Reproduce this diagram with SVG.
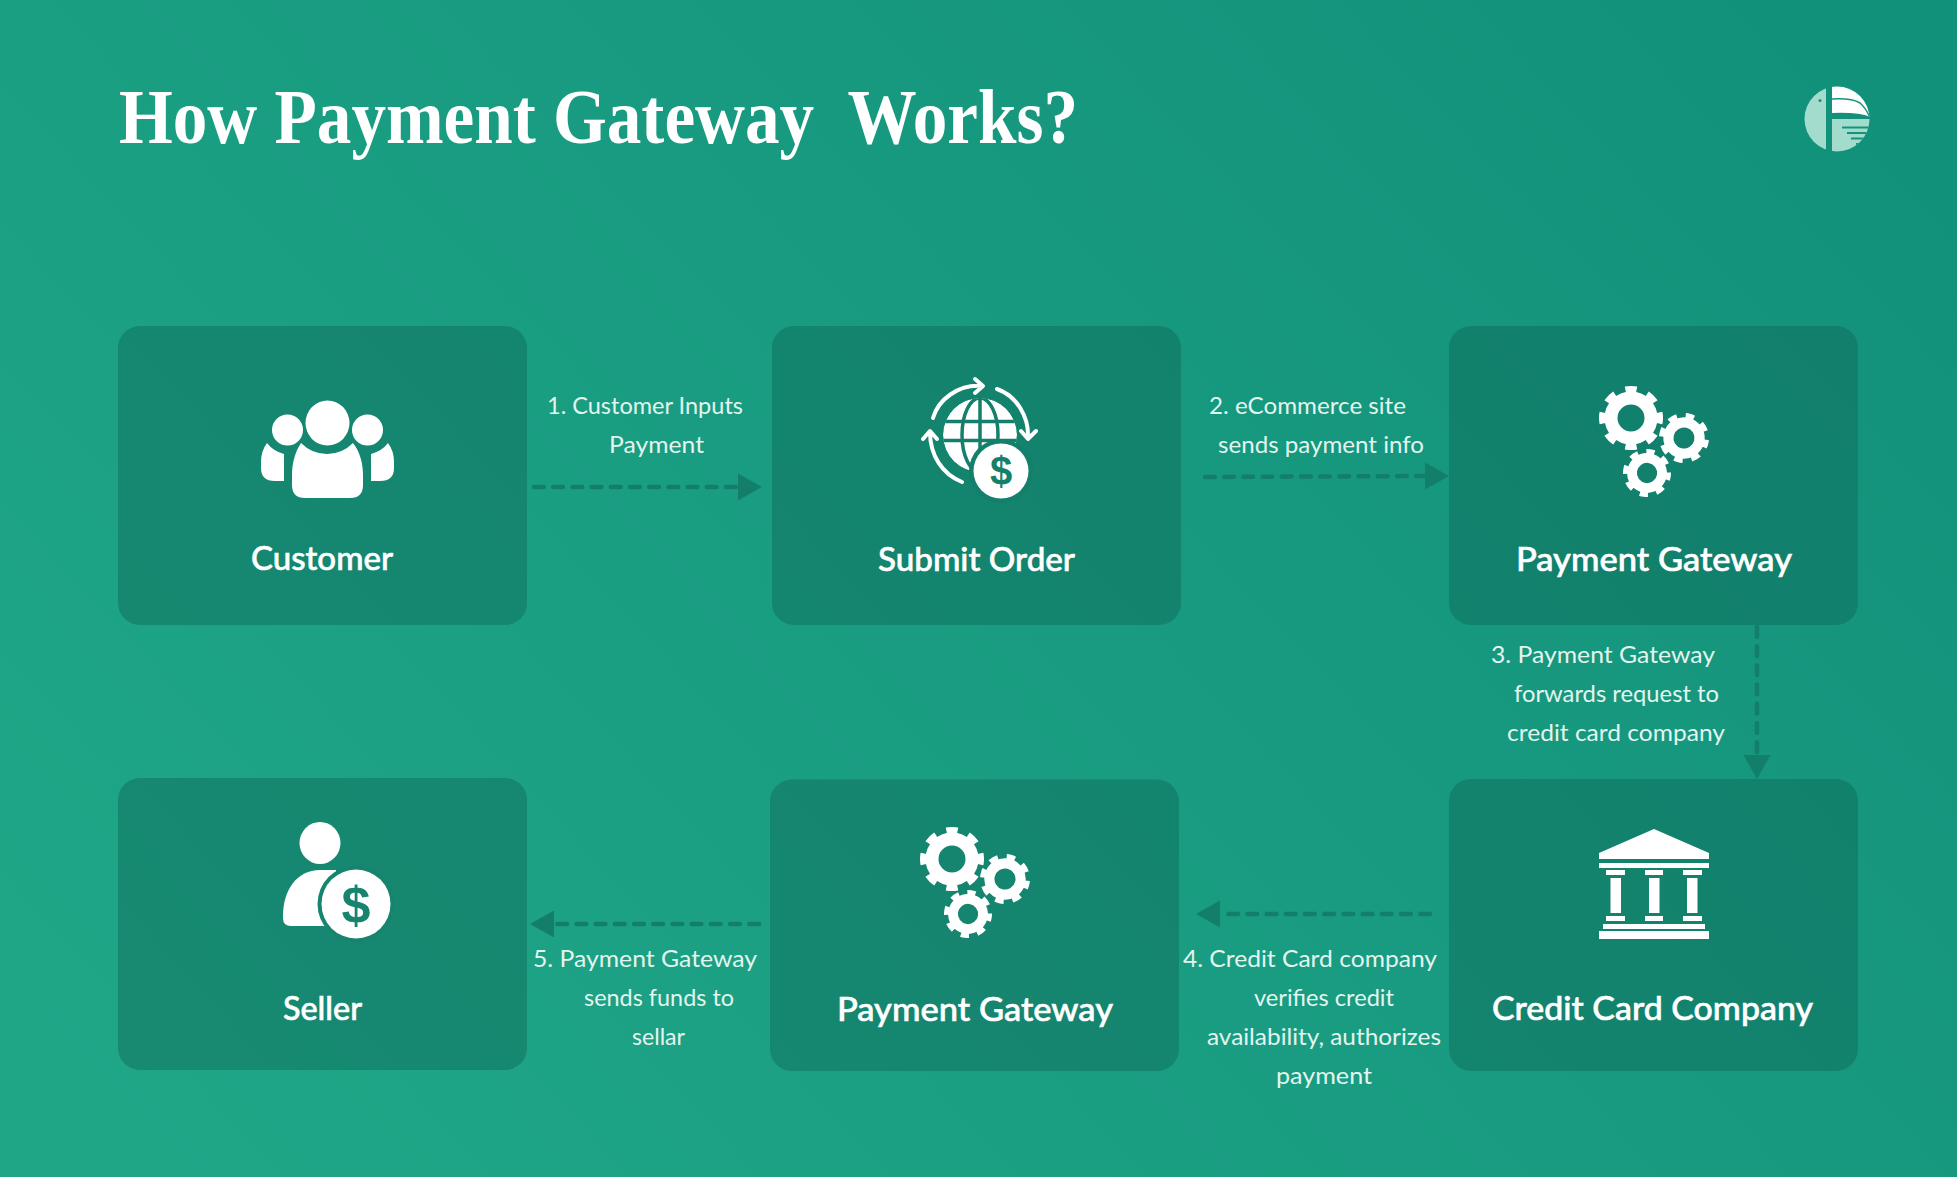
<svg xmlns="http://www.w3.org/2000/svg" width="1957" height="1177" viewBox="0 0 1957 1177">
<style>
.card{fill:#0f6455;fill-opacity:.42}
.title{font-family:"Liberation Serif",serif;font-weight:700;font-size:78px;fill:#fff;white-space:pre}
.node{font-family:Lato,"Liberation Sans",sans-serif;font-weight:500;font-size:33px;fill:#fff;stroke:#fff;stroke-width:.6}
.step{font-family:Lato,"Liberation Sans",sans-serif;font-size:24px;fill:#e3f5ef}
.flow{fill:none;stroke:#137f6a;stroke-width:4.5;stroke-dasharray:9.700 9.500;stroke-linecap:round;marker-end:url(#head)}
.w{fill:#fff}
.arc{fill:none;stroke:#fff;stroke-width:4;stroke-linecap:round;stroke-linejoin:round}
.dollar{font-family:"Liberation Sans",sans-serif;font-weight:700;text-anchor:middle}
</style>
<defs>
<linearGradient id="bg" gradientUnits="userSpaceOnUse" x1="1700" y1="-100" x2="250" y2="1250">
<stop offset="0" stop-color="#12917a"/><stop offset="1" stop-color="#1fa687"/>
</linearGradient>
<marker id="head" markerUnits="userSpaceOnUse" markerWidth="25" markerHeight="28" refX="0" refY="13.5" orient="auto">
<path d="M0,0L24,13.5L0,27Z" fill="#137f6a"/>
</marker>
<g id="gear">
<circle r="20" fill="none" stroke="#fff" stroke-width="13"/>
<circle r="28.5" fill="none" stroke="#fff" stroke-width="7" pathLength="80" stroke-dasharray="5 5" stroke-dashoffset="2.5"/>
</g>
<g id="gears">
<use href="#gear" transform="translate(1631 418)"/>
<use href="#gear" transform="translate(1684 438) rotate(14) scale(.78)"/>
<use href="#gear" transform="translate(1647 473) rotate(8) scale(.75)"/>
</g>
<clipPath id="globe"><circle cx="980" cy="435" r="37"/></clipPath>
<clipPath id="logo"><circle cx="1837" cy="119" r="32.5"/></clipPath>
</defs>
<rect width="1957" height="1177" fill="url(#bg)"/>
<text class="title" x="119" y="143" textLength="959" lengthAdjust="spacingAndGlyphs">How Payment Gateway  Works?</text>
<g id="logo-mark" clip-path="url(#logo)">
<rect x="1800" y="85" width="26" height="68" fill="#a3dccc"/>
<circle cx="1820" cy="100.5" r="1.5" fill="#15937a"/>
<path d="M1832,85H1872V118Q1862,112 1832,113Z" fill="#fff"/>
<path d="M1832,99Q1852,98 1860,103Q1866,108 1870,118" fill="none" stroke="#15937a" stroke-width="1.5"/>
<rect x="1832" y="119" width="40" height="36" fill="#a3dccc"/>
<path d="M1842,127.500H1872M1847,133H1872M1851,138.500H1872M1856,144H1872" stroke="#15937a" stroke-width="2"/>
</g>
<g id="connectors">
<path class="flow" d="M534,487H738"/>
<path class="flow" d="M1205,477L1425,476"/>
<path class="flow" d="M1757,627V755"/>
<path class="flow" d="M1430,914H1220"/>
<path class="flow" d="M759,924H554"/>
</g>
<g id="customer">
<rect class="card" x="118" y="326" width="409" height="299" rx="22"/>
<ellipse class="w" cx="327.500" cy="423" rx="22" ry="22.500"/>
<circle class="w" cx="287.500" cy="430" r="15.500"/>
<circle class="w" cx="367.500" cy="430" r="15.500"/>
<path class="w" d="M301,443Q312,454 327,454Q342,454 353,443C360,452 363,463 363,475V485Q363,498 350,498H305Q292,498 292,485V475C292,463 295,452 301,443Z"/>
<path class="w" d="M267,443Q273,451 284,454V481H275Q261,481 261,468V462Q261,451 267,443Z"/>
<path class="w" d="M388,443Q382,451 371,454V481H380Q394,481 394,468V462Q394,451 388,443Z"/>
<text class="node" x="251" y="570" textLength="142" lengthAdjust="spacingAndGlyphs">Customer</text>
</g>
<g id="submit-order">
<rect class="card" x="772" y="326" width="409" height="299" rx="22"/>
<g clip-path="url(#globe)">
<circle class="w" cx="980" cy="435" r="37"/>
<path d="M943,421.500H1017M943,440.500H1017M980,398V472" fill="none" stroke="#147f6a" stroke-width="3.500"/>
<ellipse cx="980" cy="435" rx="18" ry="37" fill="none" stroke="#147f6a" stroke-width="3.500"/>
</g>
<circle cx="1001" cy="471" r="32" fill="#147f6a"/>
<circle class="w" cx="1001" cy="471" r="27.500"/>
<text class="dollar" x="1001" y="485" font-size="40" fill="#147f6a">$</text>
<path class="arc" d="M933,418C938,400 958,384 982,386M975,379L983,386L975,393"/>
<path class="arc" d="M997,389C1017,396 1029,417 1028,438M1021,431L1028,439L1036,431"/>
<path class="arc" d="M962,482C942,474 930,455 930,432M923,439L930,431L937,439"/>
<text class="node" x="878" y="571" textLength="197" lengthAdjust="spacingAndGlyphs">Submit Order</text>
</g>
<g id="payment-gateway-top">
<rect class="card" x="1449" y="326" width="409" height="299" rx="22"/>
<use href="#gears"/>
<text class="node" x="1516" y="571" textLength="276" lengthAdjust="spacingAndGlyphs">Payment Gateway</text>
</g>
<g id="credit-card-company">
<rect class="card" x="1449" y="779" width="409" height="292" rx="22"/>
<path class="w" d="M1654,829L1709,853V859H1599V853Z"/>
<path class="w" d="M1599,863h110v5h-110ZM1606,870h19v5h-19ZM1645,870h18v5h-18ZM1683,870h19v5h-19ZM1610.500,878h10.500v35h-10.500ZM1649,878h10.500v35h-10.500ZM1687,878h10.500v35h-10.500ZM1606,916h19v5h-19ZM1645,916h18v5h-18ZM1683,916h19v5h-19ZM1603,924h102v5h-102ZM1599,931h110v8h-110Z"/>
<text class="node" x="1492" y="1020" textLength="321" lengthAdjust="spacingAndGlyphs">Credit Card Company</text>
</g>
<g id="payment-gateway-bottom">
<rect class="card" x="770" y="779.500" width="409" height="291.500" rx="22"/>
<use href="#gears" transform="translate(-679 441)"/>
<text class="node" x="837" y="1021" textLength="276" lengthAdjust="spacingAndGlyphs">Payment Gateway</text>
</g>
<g id="seller">
<rect class="card" x="118" y="778" width="409" height="292" rx="22"/>
<ellipse class="w" cx="320" cy="843" rx="20.500" ry="21"/>
<path class="w" d="M283,916C283,890 297,870 320,870H336V926H291Q283,926 283,918Z"/>
<circle cx="356" cy="904" r="38.500" fill="#17846e"/>
<circle class="w" cx="356" cy="904" r="34.500"/>
<text class="dollar" x="356" y="923" font-size="52" fill="#17846e">$</text>
<text class="node" x="283" y="1020" textLength="79" lengthAdjust="spacingAndGlyphs">Seller</text>
</g>
<g id="step-labels">
<text class="step" x="547" y="414" textLength="196" lengthAdjust="spacingAndGlyphs">1. Customer Inputs</text>
<text class="step" x="609" y="453" textLength="95" lengthAdjust="spacingAndGlyphs">Payment</text>
<text class="step" x="1209" y="414" textLength="197" lengthAdjust="spacingAndGlyphs">2. eCommerce site</text>
<text class="step" x="1218" y="453" textLength="206" lengthAdjust="spacingAndGlyphs">sends payment info</text>
<text class="step" x="1491" y="663" textLength="224" lengthAdjust="spacingAndGlyphs">3. Payment Gateway</text>
<text class="step" x="1514" y="702" textLength="205" lengthAdjust="spacingAndGlyphs">forwards request to</text>
<text class="step" x="1507" y="741" textLength="218" lengthAdjust="spacingAndGlyphs">credit card company</text>
<text class="step" x="1183" y="967" textLength="254" lengthAdjust="spacingAndGlyphs">4. Credit Card company</text>
<text class="step" x="1254" y="1006" textLength="140" lengthAdjust="spacingAndGlyphs">verifies credit</text>
<text class="step" x="1207" y="1045" textLength="234" lengthAdjust="spacingAndGlyphs">availability, authorizes</text>
<text class="step" x="1276" y="1084" textLength="96" lengthAdjust="spacingAndGlyphs">payment</text>
<text class="step" x="533" y="967" textLength="224" lengthAdjust="spacingAndGlyphs">5. Payment Gateway</text>
<text class="step" x="584" y="1006" textLength="150" lengthAdjust="spacingAndGlyphs">sends funds to</text>
<text class="step" x="632" y="1045" textLength="53" lengthAdjust="spacingAndGlyphs">sellar</text>
</g>
</svg>
